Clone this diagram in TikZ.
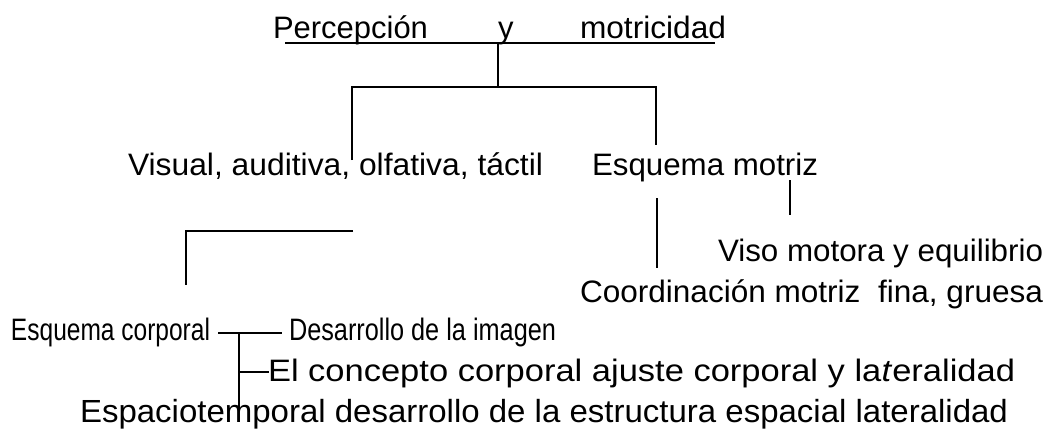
\documentclass[tikz,border=0pt]{standalone}
\usepackage{fontspec}
\setmainfont{Liberation Sans}
\usepackage{graphicx}
\newsavebox\fitbox
\newcommand\fitto[2]{\sbox\fitbox{#2}\scalebox{\fpeval{#1/\the\wd\fitbox}}[1]{\usebox\fitbox}}
\tikzset{
  txt/.style={inner sep=0pt, outer sep=0pt, anchor=base west, font=\fontsize{31}{37}\selectfont},
  conn/.style={line width=1.4pt, line cap=butt}
}
\begin{document}
\begin{tikzpicture}[x=1pt,y=-1pt]
\fill[white] (0,0) rectangle (1057,437);
\useasboundingbox (0,0) rectangle (1057,437);
% texts
\node[txt] (perc) at (273,38) {\fitto{155}{Percepción}};
\node[txt] (y) at (498,38) {y};
\node[txt] (motr) at (580,38) {\fitto{146}{motricidad}};
\node[txt] (vis) at (128,175) {\fitto{415}{Visual, auditiva, olfativa, táctil}};
\node[txt] (esqm) at (592,175) {\fitto{226}{Esquema motriz}};
\node[txt] (viso) at (718,261) {\fitto{325}{Viso motora y equilibrio}};
\node[txt] (coord) at (580,302) {\fitto{463}{Coordinación motriz\ \ fina, gruesa}};
\node[txt] (esqc) at (11,340) {\fitto{199}{Esquema corporal}};
\node[txt] (desa) at (289,340) {\fitto{267}{Desarrollo de la imagen}};
\node[txt] (conc) at (268,381) {\fitto{747}{El concepto corporal ajuste corporal y la\textit{t}eralidad}};
\node[txt, font=\fontsize{32}{38}\selectfont] (espa) at (80,422) {\fitto{928}{Espaciotemporal desarrollo de la estructura espacial lateralidad}};
% coordinates
\coordinate (ul1) at (285,43);
\coordinate (ul2) at (715,43);
\coordinate (top) at (498,43);
\coordinate (mid) at (498,87);
\coordinate (hl) at (352,87);
\coordinate (hr) at (656,87);
\coordinate (vl) at (352,160);
\coordinate (vr) at (656,145);
\coordinate (em1) at (657,198);
\coordinate (em2) at (657,268);
\coordinate (vm1) at (790,180);
\coordinate (vm2) at (790,215);
\coordinate (lh1) at (186,231);
\coordinate (lh2) at (353,231);
\coordinate (lv2) at (186,285);
\coordinate (b1) at (218,333);
\coordinate (b2) at (282,333);
\coordinate (bt) at (239,333);
\coordinate (bm) at (239,372);
\coordinate (bmr) at (269,372);
\coordinate (bb) at (239,409);
% connectors
\draw[conn] (ul1) -- (ul2);
\draw[conn] (top) -- (mid);
\draw[conn] (vl) -- (hl) -- (hr) -- (vr);
\draw[conn] (em1) -- (em2);
\draw[conn] (vm1) -- (vm2);
\draw[conn] (lh2) -- (lh1) -- (lv2);
\draw[conn] (b1) -- (b2);
\draw[conn] (bt) -- (bb);
\draw[conn] (bm) -- (bmr);
\end{tikzpicture}
\end{document}
